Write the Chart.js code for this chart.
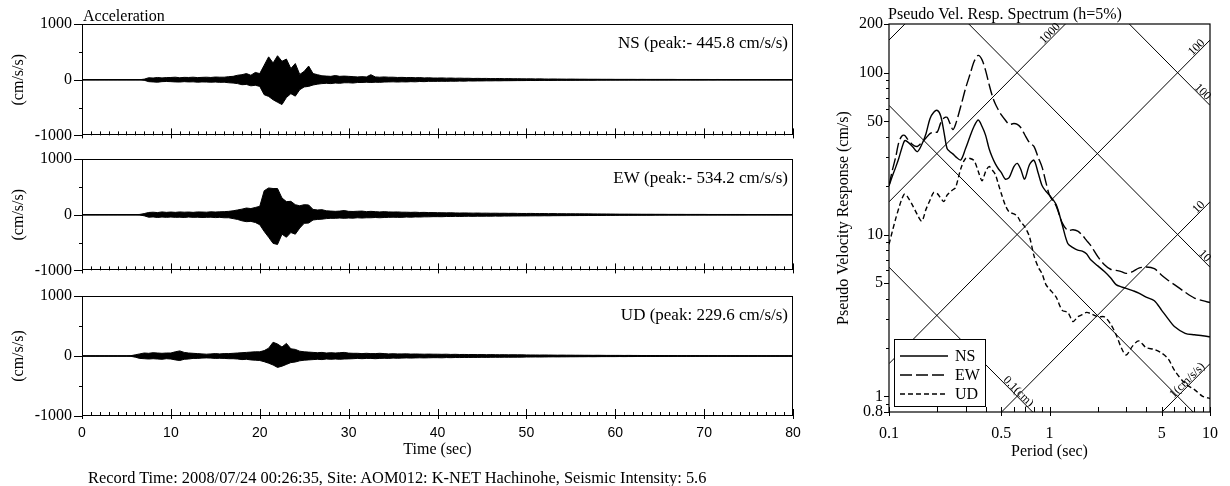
<!DOCTYPE html>
<html><head><meta charset="utf-8">
<script src="https://cdn.jsdelivr.net/npm/chart.js@4.4.1/dist/chart.umd.min.js"></script>
<style>
html,body{margin:0;padding:0;background:#fff;width:1230px;height:486px;overflow:hidden;position:relative;}
canvas{position:absolute;}
#cap{position:absolute;left:88px;top:469px;font:16.4px "Liberation Serif";white-space:nowrap;color:#000;line-height:18px;}
</style></head><body>
<canvas id="wNS" width="810" height="153" style="left:0;top:2px"></canvas>
<canvas id="wEW" width="810" height="153" style="left:0;top:137px"></canvas>
<canvas id="wUD" width="810" height="186" style="left:0;top:274px"></canvas>
<canvas id="spec" width="410" height="486" style="left:820px;top:0"></canvas>
<div id="cap">Record Time: 2008/07/24 00:26:35, Site: AOM012: K-NET Hachinohe, Seismic Intensity: 5.6</div>
<script>
// ---------- waveform data: upper / lower envelope per 0.5 s step (cm/s/s), t = 0 ... 80 s ----------
const timeStep = 0.5;
const timeTicks = [0,10,20,30,40,50,60,70,80];
const accTicks = [-1000,-500,0,500,1000];
const accLabels = [-1000,0,1000];

const nsUp = [0,0,0,0,0,0,0,0,0,0, 0,0,0,0,10,35,30,40,32,38,
 40,45,35,42,40,45,38,42,45,40, 48,45,45,55,60,80,90,110,80,130,
 110,260,410,300,430,330,370,200,290,95, 150,245,110,90,70,65,60,75,60,65,
 60,55,50,55,50,90,50,45,50,45, 45,40,42,38,40,35,38,32,35,30,
 30,32,28,30,26,28,25,26,22,24, 22,23,20,20,22,18,20,17,18,16,
 15,16,14,15,13,12,13,12,11,10, 11,10,9,9,8,8,8,7,7,7,
 6,6,6,6,6,5,6,5,5,5, 5,5,5,5,4,4,4,4,4,4,
 4,4,3,4,3,3,3,3,3,3, 3,3,3,3,3,3,3,3,3,3, 3];
const nsDn = [0,0,0,0,0,0,0,0,0,0, 0,0,0,0,-10,-35,-40,-45,-35,-32,
 -35,-40,-42,-35,-40,-38,-45,-40,-42,-45, -42,-48,-45,-55,-60,-70,-90,-85,-110,-100,
 -120,-270,-300,-360,-405,-446,-320,-250,-295,-180, -130,-120,-95,-80,-70,-65,-70,-60,-65,-55,
 -55,-60,-50,-50,-45,-50,-45,-48,-42,-40, -38,-42,-38,-40,-35,-38,-32,-35,-30,-30,
 -30,-28,-30,-26,-28,-25,-26,-22,-24,-22, -22,-20,-21,-19,-20,-18,-18,-17,-16,-16,
 -15,-14,-15,-13,-12,-13,-12,-11,-10,-11, -10,-9,-9,-8,-8,-8,-7,-7,-7,-6,
 -6,-6,-6,-6,-5,-6,-5,-5,-5,-5, -5,-5,-5,-4,-4,-4,-4,-4,-4,-4,
 -4,-3,-4,-3,-3,-3,-3,-3,-3,-3, -3,-3,-3,-3,-3,-3,-3,-3,-3,-3, -3];

const ewUp = [0,0,0,0,0,0,0,0,0,0, 0,0,0,5,20,40,45,38,50,42,
 48,42,50,45,48,42,50,48,45,52, 48,52,55,60,70,85,100,120,110,130,
 150,430,480,470,470,300,235,240,180,160, 180,175,95,85,90,70,65,60,65,75,
 60,58,62,65,55,60,55,50,55,50, 48,50,45,45,42,45,40,42,38,38,
 36,35,33,35,32,30,32,30,28,30, 27,28,26,27,25,26,24,25,23,22,
 22,23,21,20,21,19,20,18,18,17, 17,16,16,15,15,14,14,13,13,12,
 11,10,10,10,9,9,8,8,8,7, 7,7,6,6,6,6,5,5,5,5,
 5,4,4,4,4,4,4,4,4,4, 3,3,3,3,3,3,3,3,3,3, 3];
const ewDn = [0,0,0,0,0,0,0,0,0,0, 0,0,0,-5,-20,-45,-40,-50,-42,-48,
 -42,-48,-45,-50,-42,-48,-45,-50,-48,-45, -52,-48,-55,-55,-70,-85,-110,-125,-120,-140,
 -180,-300,-405,-515,-534,-350,-405,-320,-350,-240, -155,-150,-95,-85,-80,-70,-65,-65,-60,-65,
 -60,-62,-55,-60,-55,-55,-50,-55,-50,-48, -45,-48,-48,-42,-45,-40,-42,-38,-38,-35,
 -35,-36,-32,-33,-30,-32,-30,-28,-30,-27, -28,-26,-27,-25,-26,-24,-25,-23,-23,-22,
 -22,-21,-20,-21,-19,-20,-18,-18,-17,-17, -16,-16,-15,-15,-14,-14,-13,-13,-12,-12,
 -11,-10,-10,-10,-9,-9,-8,-8,-8,-7, -7,-7,-6,-6,-6,-6,-5,-5,-5,-5,
 -4,-5,-4,-4,-4,-4,-4,-4,-4,-4, -3,-3,-3,-3,-3,-3,-3,-3,-3,-3, -3];

const udUp = [0,0,0,0,0,0,0,0,0,0, 0,5,20,35,50,45,55,50,45,50,
 50,70,85,60,50,45,40,35,30,35, 40,35,40,40,45,50,55,60,65,70,
 70,90,130,229,200,150,210,120,110,80, 70,65,60,55,60,50,55,50,55,60,
 48,45,45,40,45,40,40,45,40,35, 38,35,35,36,32,34,32,30,32,30,
 30,28,30,26,28,25,26,24,25,23, 24,22,23,22,21,22,20,21,20,20,
 18,17,17,16,17,16,15,14,15,14, 14,13,13,12,12,11,12,11,10,10,
 10,10,9,10,9,9,8,8,8,7, 8,7,7,7,6,6,6,6,6,5,
 5,5,5,4,4,4,4,4,4,4, 4,4,4,3,3,3,3,3,3,3, 3];
const udDn = [0,0,0,0,0,0,0,0,0,0, 0,-5,-20,-40,-45,-50,-45,-50,-55,-45,
 -50,-65,-75,-55,-50,-40,-40,-35,-32,-35, -40,-38,-40,-45,-45,-50,-60,-55,-65,-70,
 -75,-95,-120,-150,-190,-170,-140,-110,-100,-80, -70,-65,-60,-55,-60,-50,-55,-50,-55,-50,
 -48,-45,-40,-45,-40,-40,-45,-40,-38,-40, -35,-38,-35,-32,-35,-32,-30,-32,-30,-28,
 -28,-30,-26,-28,-25,-26,-24,-25,-23,-24, -22,-23,-22,-21,-22,-20,-21,-20,-20,-19,
 -17,-17,-16,-17,-16,-15,-14,-15,-14,-14, -13,-13,-12,-12,-11,-12,-11,-10,-10,-10,
 -10,-9,-10,-9,-9,-8,-8,-8,-7,-8, -7,-7,-7,-6,-6,-6,-6,-6,-5,-5,
 -5,-5,-4,-4,-4,-4,-4,-4,-4,-4, -4,-4,-3,-3,-3,-3,-3,-3,-3,-3, -3];

// ---------- response spectrum data (cm/s) ----------
const periods = [0.1,0.105,0.11,0.115,0.12,0.125,0.13,0.14,0.15,0.16,0.17,0.18,0.19,0.2,0.21,0.22,0.23,0.24,0.25,0.26,
 0.28,0.3,0.32,0.34,0.36,0.38,0.4,0.42,0.44,0.46,0.48,0.5,0.53,0.56,0.6,0.63,0.66,0.7,0.75,0.8,
 0.85,0.9,0.95,1.0,1.1,1.2,1.3,1.4,1.5,1.6,1.7,1.8,2.0,2.2,2.4,2.6,2.8,3.0,3.3,3.6,
 4.0,4.5,5.0,5.5,6.0,7.0,8.0,9.0,10];
const nsSv = [20,23,26,29.5,34,38,37.5,35,32.5,36,42,52,57,58.5,54,43,34,32.5,31.5,30.3,
 28.9,34,40.5,47,51,46.5,41,34,30,27.3,25.5,24.2,22,22.5,26.3,27.5,25.5,22,27,28.8,
 24,20,18.5,17.5,15.3,11.5,8.8,8.3,8.0,7.9,7.6,7.0,6.4,5.9,5.4,4.9,4.75,4.65,4.5,4.35,
 4.1,3.9,3.4,3.0,2.7,2.45,2.4,2.37,2.33];
const ewSv = [20,25,30,37,40.5,41,39,36,35,37,39.5,42,43,43,49,52.5,53,48.5,44.5,48,
 62,80,98,118,128,120,103,85,72,64,59,55,51,48,48.5,48,46,41.5,37,35,
 30,26,21,17.5,15,11.8,10.6,10.7,10.5,9.9,9.2,8.6,7.3,6.5,6.1,6.0,5.9,5.75,5.9,6.2,
 6.3,6.15,5.6,5.2,4.9,4.4,4.05,3.9,3.8];
const udSv = [8.7,10.5,12.5,14.5,16.5,17.8,17.2,15.2,13.3,12.1,14.3,16.3,18.2,17.9,16.8,16.0,17.5,18.3,18.9,19.5,
 25.5,29.5,29.5,28.5,24.5,21.5,24.5,26.3,25,23.5,20.5,18,15.2,13.8,13.4,13.0,12.0,11.2,9.7,7.4,
 6.3,5.7,4.9,4.6,4.1,3.4,3.3,2.9,3.1,3.2,3.3,3.25,3.1,3.1,2.8,2.4,2.0,1.8,2.05,2.2,
 2.0,1.95,1.85,1.7,1.45,1.2,1.1,1.0,0.97];

const periodTicks = [0.1,0.2,0.3,0.4,0.5,0.6,0.7,0.8,0.9,1,2,3,4,5,6,7,8,9,10];
const periodLabels = [0.1,0.5,1,5,10];
const velTicks = [0.8,0.9,1,2,3,4,5,6,7,8,9,10,20,30,40,50,60,70,80,90,100,200];
const velLabels = [0.8,1,5,10,50,100,200];
const accelLines = [1,10,100,1000,10000];          // cm/s/s
const accelLineLabels = ['1(cm/s/s)','10','100','1000',''];
const dispLines = [0.1,1,10,100];                  // cm
const dispLineLabels = ['0.1(cm)','','10','100'];

Chart.defaults.font.family = '"Liberation Serif", "Times New Roman", serif';
Chart.defaults.color = '#000';
const SERIF = '"Liberation Serif", "Times New Roman", serif';

function seg(ctx,x1,y1,x2,y2){ctx.beginPath();ctx.moveTo(x1,y1);ctx.lineTo(x2,y2);ctx.stroke();}

const wavePlugin = {
  id:'wave',
  beforeDatasetsDraw(chart){
    const {ctx, chartArea:a, scales:{y}} = chart;
    ctx.save(); ctx.strokeStyle='#000'; ctx.lineWidth=1.5;
    const y0=y.getPixelForValue(0);
    seg(ctx,a.left,y0,a.right,y0);
    ctx.restore();
  },
  afterDraw(chart, args, opts){
    const {ctx, chartArea:a, scales:{x,y}} = chart;
    ctx.save();
    ctx.strokeStyle='#000'; ctx.lineWidth=1;
    ctx.strokeRect(Math.round(a.left)+0.5, Math.round(a.top)+0.5, Math.round(a.width)-1, Math.round(a.height)-1);
    accTicks.forEach(v=>{
      const py=Math.round(y.getPixelForValue(v))+0.5;
      const len = accLabels.includes(v)?8:3;
      seg(ctx,a.left-len,py,a.left,py);
    });
    for(let t=x.min;t<=x.max;t+=1){
      const px=Math.round(x.getPixelForValue(t))+0.5;
      if(timeTicks.includes(t)) seg(ctx,px,a.bottom+3,px,a.bottom-7);
      else seg(ctx,px,a.bottom,px,a.bottom-4);
    }
    ctx.fillStyle='#000';
    ctx.font='17px '+SERIF; ctx.textAlign='right'; ctx.textBaseline='alphabetic';
    ctx.fillText(opts.label, a.right-5, a.top+24);
    if(opts.title){ ctx.font='16px '+SERIF; ctx.textAlign='left'; ctx.fillText(opts.title, a.left+1, a.top-3); }
    ctx.restore();
  }
};

function wavePanel(id, up, dn, label, last, title){
  const upPts = up.map((u,i)=>({x:i*timeStep, y:u}));
  const dnPts = dn.map((d,i)=>({x:i*timeStep, y:d}));
  const xScale = {type:'linear',min:0,max:80,display:last,
    afterBuildTicks:s=>{s.ticks=timeTicks.map(v=>({value:v}));},
    grid:{display:false,drawTicks:false},border:{display:false},
    ticks:{padding:9,maxRotation:0,autoSkip:false,font:{family:'"Liberation Sans", Arial, sans-serif',size:14},color:'#000'},
    title:{display:true,text:'Time (sec)',font:{size:16},color:'#000',padding:{top:0,bottom:1}}};
  if(last) xScale.afterFit = s=>{s.height=44;};
  new Chart(document.getElementById(id),{
    type:'line',
    data:{datasets:[
      {data:upPts,borderColor:'#000',backgroundColor:'#000',borderWidth:1,pointRadius:0,tension:0,fill:'+1'},
      {data:dnPts,borderColor:'#000',backgroundColor:'#000',borderWidth:1,pointRadius:0,tension:0,fill:false}
    ]},
    options:{
      responsive:false, animation:false, events:[],
      layout:{padding:{left:0,right:17,top:22,bottom: last?0:11}},
      plugins:{legend:{display:false},tooltip:{enabled:false},wave:{label,title},filler:{propagate:false}},
      scales:{
        x:xScale,
        y:{type:'linear',min:-1000,max:1000,
          afterBuildTicks:s=>{s.ticks=accTicks.map(v=>({value:v}));},
          afterFit:s=>{s.width=82;},
          grid:{display:false,drawTicks:false},border:{display:false},
          ticks:{padding:10,autoSkip:false,font:{size:16},color:'#000',callback:v=>accLabels.includes(v)?String(v):''},
          title:{display:true,text:'(cm/s/s)',font:{size:16},color:'#000',padding:{top:9,bottom:0}}}
      }
    },
    plugins:[wavePlugin]
  });
}
wavePanel('wNS',nsUp,nsDn,'NS (peak:- 445.8 cm/s/s)',false,'Acceleration');
wavePanel('wEW',ewUp,ewDn,'EW (peak:- 534.2 cm/s/s)',false,null);
wavePanel('wUD',udUp,udDn,'UD (peak: 229.6 cm/s/s)',true,null);

// ---------- spectrum ----------
const specPlugin = {
  id:'spec',
  beforeDatasetsDraw(chart){
    const {ctx, chartArea:a, scales:{x,y}} = chart;
    ctx.save();
    ctx.beginPath(); ctx.rect(a.left,a.top,a.width,a.height); ctx.clip();
    ctx.strokeStyle='#000'; ctx.lineWidth=1;
    const T0=x.min, T1=x.max;
    accelLines.forEach(A=>{ const f=T=>A*T/(2*Math.PI);
      seg(ctx,x.getPixelForValue(T0),y.getPixelForValue(f(T0)),x.getPixelForValue(T1),y.getPixelForValue(f(T1))); });
    dispLines.forEach(D=>{ const f=T=>2*Math.PI*D/T;
      seg(ctx,x.getPixelForValue(T0),y.getPixelForValue(f(T0)),x.getPixelForValue(T1),y.getPixelForValue(f(T1))); });
    ctx.restore();
    ctx.save();
    ctx.fillStyle='#000'; ctx.font='12px '+SERIF; ctx.textAlign='right'; ctx.textBaseline='alphabetic';
    accelLines.forEach((A,i)=>{ const txt=accelLineLabels[i]; if(!txt) return;
      const f=T=>A*T/(2*Math.PI);
      const Te=Math.min(x.max, 2*Math.PI*y.max/A); const Ta=Te/Math.pow(10,0.025);
      ctx.save(); ctx.translate(x.getPixelForValue(Ta), y.getPixelForValue(f(Ta))); ctx.rotate(-Math.PI/4);
      ctx.fillText(txt,0,-1); ctx.restore(); });
    dispLines.forEach((D,i)=>{ const txt=dispLineLabels[i]; if(!txt) return;
      const f=T=>2*Math.PI*D/T;
      const Te=Math.min(x.max, 2*Math.PI*D/y.min); const Ta=Te/Math.pow(10,0.025);
      ctx.save(); ctx.translate(x.getPixelForValue(Ta), y.getPixelForValue(f(Ta))); ctx.rotate(Math.PI/4);
      ctx.fillText(txt,0,-1); ctx.restore(); });
    ctx.restore();
  },
  afterDraw(chart){
    const {ctx, chartArea:a, scales:{x,y}} = chart;
    ctx.save();
    ctx.strokeStyle='#000'; ctx.lineWidth=1.2;
    ctx.strokeRect(a.left, a.top, a.width, a.height);
    ctx.lineWidth=1;
    velTicks.forEach(v=>{ const py=Math.round(y.getPixelForValue(v))+0.5;
      seg(ctx,a.left-(velLabels.includes(v)?5:3),py,a.left,py); });
    periodTicks.forEach(v=>{ const px=Math.round(x.getPixelForValue(v))+0.5;
      if(periodLabels.includes(v)) seg(ctx,px,a.bottom+4,px,a.bottom-5); else seg(ctx,px,a.bottom,px,a.bottom-5); });
    ctx.fillStyle='#000'; ctx.font='16px '+SERIF; ctx.textAlign='left'; ctx.textBaseline='alphabetic';
    ctx.fillText('Pseudo Vel. Resp. Spectrum (h=5%)', a.left-1, a.top-5);
    const lx=a.left+5, ly=a.bottom-73, w=91, h=67;
    ctx.fillStyle='#fff'; ctx.fillRect(lx,ly,w,h);
    ctx.strokeStyle='#000'; ctx.lineWidth=1; ctx.strokeRect(lx+0.5,ly+0.5,w,h);
    ctx.font='16px '+SERIF; ctx.textBaseline='middle'; ctx.fillStyle='#000';
    chart.data.datasets.forEach((ds,i)=>{ const yy=ly+17+i*19;
      ctx.lineWidth=1.4; ctx.setLineDash(ds.borderDash||[]); seg(ctx,lx+6,yy,lx+54,yy); ctx.setLineDash([]);
      ctx.fillText(ds.label,lx+61,yy+1); });
    ctx.restore();
  }
};

const mk = arr => periods.map((p,i)=>({x:p,y:arr[i]}));
new Chart(document.getElementById('spec'),{
  type:'line',
  data:{datasets:[
    {label:'NS',data:mk(nsSv),borderColor:'#000',borderWidth:1.4,pointRadius:0,tension:0.3,borderDash:[]},
    {label:'EW',data:mk(ewSv),borderColor:'#000',borderWidth:1.4,pointRadius:0,tension:0.3,borderDash:[12,4]},
    {label:'UD',data:mk(udSv),borderColor:'#000',borderWidth:1.4,pointRadius:0,tension:0.3,borderDash:[5,3]}
  ]},
  options:{
    responsive:false, animation:false, events:[],
    layout:{padding:{left:0,right:16,top:24,bottom:24}},
    plugins:{legend:{display:false},tooltip:{enabled:false}},
    scales:{
      x:{type:'logarithmic',min:0.1,max:10,
        afterBuildTicks:s=>{s.ticks=periodTicks.map(v=>({value:v}));},
        afterFit:s=>{s.height=50;},
        grid:{display:false,drawTicks:false},border:{display:false},
        ticks:{padding:12,maxRotation:0,autoSkip:false,font:{size:16},color:'#000',callback:v=>periodLabels.includes(v)?String(v):''},
        title:{display:true,text:'Period (sec)',font:{size:16},color:'#000',padding:{top:0,bottom:1}}},
      y:{type:'logarithmic',min:0.8,max:200,
        afterBuildTicks:s=>{s.ticks=velTicks.map(v=>({value:v}));},
        afterFit:s=>{s.width=69;},
        grid:{display:false,drawTicks:false},border:{display:false},
        ticks:{padding:6,autoSkip:false,font:{size:16},color:'#000',callback:v=>velLabels.includes(v)?String(v):''},
        title:{display:true,text:'Pseudo Velocity Response (cm/s)',font:{size:16},color:'#000',padding:{top:14,bottom:0}}}
    }
  },
  plugins:[specPlugin]
});
</script>
</body></html>
